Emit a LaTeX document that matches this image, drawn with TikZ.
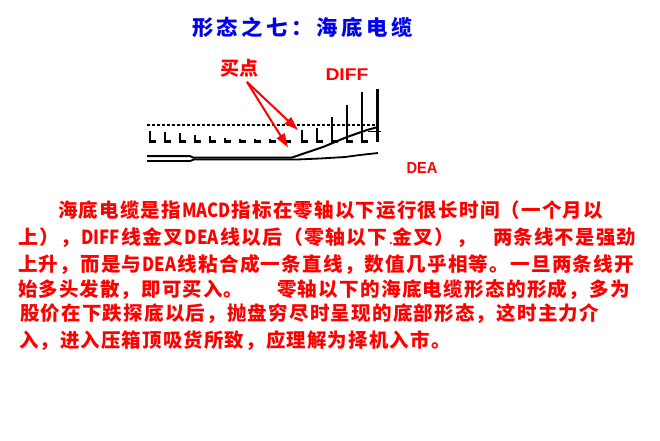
\documentclass[tikz,border=0pt]{standalone}
\usepackage{fontspec}
\usepackage{graphicx}
\usetikzlibrary{arrows.meta}
\setmainfont{Liberation Sans}
\newfontfamily\cjk{Noto Sans CJK SC}
\newlength\lspamt
\setlength\lspamt{1.2pt}
\makeatletter
\def\lsp#1{\lsp@a#1\relax}
\def\lsp@a#1{\ifx#1\relax\else#1\hspace{\lspamt}\expandafter\lsp@a\fi}
\makeatother
\newcommand\bodyfont{\cjk\bfseries\fontsize{19.4}{19.4}\selectfont}
\newcommand\lat[1]{\scalebox{0.85}[1]{#1}\hspace{\lspamt}}
\begin{document}
\begin{tikzpicture}[x=1pt,y=-1pt,
  body/.style={anchor=base west,inner sep=0pt,outer sep=0pt,text=red,font=\bodyfont},
  ttl/.style={anchor=base west,inner sep=0pt,outer sep=0pt,text={rgb,255:red,0;green,0;blue,235},font=\cjk\bfseries\fontsize{21}{21}\selectfont},
  lab/.style={inner sep=0pt,outer sep=0pt,text=red},
  redarrow/.style={draw=red,line width=2pt,-{Triangle[length=14pt,width=9pt]}},
  barln/.style={line width=2.4pt},
  zeroaxis/.style={line width=2pt,dash pattern=on 2.5pt off 2.5pt},
  curveln/.style={line width=2pt,line join=round}]
\useasboundingbox[fill=white] (0,0) rectangle (660,440);

% title
\node[ttl] (title) at (192,35.5) {\resizebox{221pt}{\height}{\setlength\lspamt{3.5pt}\lsp{形态之七：海底电缆}\unskip}};

% chart
\draw[zeroaxis] (147,124.5) -- (379,124.5);
\foreach \x/\t in {150/131,165/132,180/133,195/135,210/136,225/137.5,240/139,255/139,270/139,285/139,302/130,317/128,332/117,347/105,362/92}{
  \draw[barln] (\x,\t) -- (\x,141.5) -- (\x+6,141.5);
}
\draw[line width=3pt] (377,89) -- (377,142);
\draw[line width=1.5pt] (368,131.5) -- (381,131.5);
% DIFF line
\draw[curveln] (147,156) -- (190,156) -- (193,157.5) -- (292,157.5) -- (323,147) -- (347,137) -- (367,130) -- (378,127);
% DEA line
\draw[curveln,line width=1.8pt] (147,161) -- (190,161) -- (194,159.5) -- (297,159.5) -- (320,158.5) -- (345,157) -- (360,155) -- (378,153);

% labels
\node[lab,anchor=base,font=\cjk\bfseries\fontsize{19}{19}\selectfont] (buylab) at (239,75) {买点};
\node[lab,anchor=base,font=\bfseries\fontsize{17}{17}\selectfont] (difflab) at (347,80.5) {\resizebox{43pt}{\height}{DIFF}};
\node[lab,anchor=base,font=\bfseries\fontsize{16}{16}\selectfont] (dealab) at (422,173.5) {\resizebox{31pt}{\height}{DEA}};
\coordinate (buy) at (247,82);
\coordinate (tip1) at (298,130);
\coordinate (tip2) at (288,147.5);
\draw[redarrow] (buy) -- (tip1);
\draw[redarrow] (buy) -- (tip2);

% body text
\node[body] (l1) at (58,217.5) {\resizebox{545pt}{\height}{\lsp{海底电缆是指}\lat{MACD}\lsp{指标在零轴以下运行很长时间（一个月以}\unskip}};
\node[body] (l2a) at (18,244.5) {\resizebox{458pt}{\height}{\lsp{上），}\lat{DIFF}\lsp{线金叉}\lat{DEA}\lsp{线以后（零轴以下}{\fontsize{10}{10}\selectfont.}\lsp{金叉），}\unskip}};
\node[body] (l2b) at (493,244.5) {\resizebox{143pt}{\height}{\lsp{两条线不是强劲}\unskip}};
\node[body] (l3) at (18,271.5) {\resizebox{616pt}{\height}{\lsp{上升，而是与}\lat{DEA}\lsp{线粘合成一条直线，数值几乎相等。一旦两条线开}\unskip}};
\node[body] (l4a) at (18,296) {\lsp{始多头发散，即可买入。}\unskip};
\node[body] (l4b) at (277,296) {\resizebox{353pt}{\height}{\lsp{零轴以下的海底电缆形态的形成，多为}\unskip}};
\node[body] (l5) at (20,320) {\resizebox{579pt}{\height}{\lsp{股价在下跌探底以后，抛盘穷尽时呈现的底部形态，这时主力介}\unskip}};
\node[body] (l6) at (19,347) {\lsp{入，进入压箱顶吸货所致，应理解为择机入市。}\unskip};
\end{tikzpicture}
\end{document}
